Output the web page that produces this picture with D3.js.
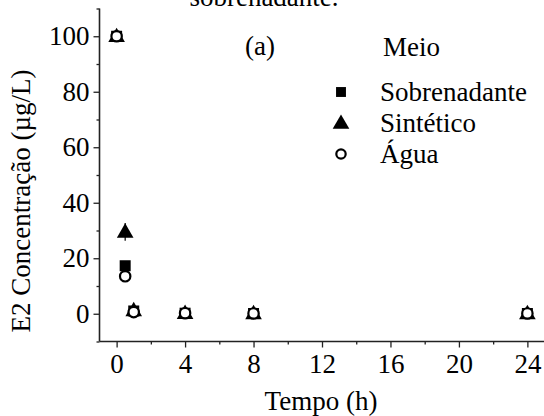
<!DOCTYPE html>
<html>
<head>
<meta charset="utf-8">
<script src="https://cdn.jsdelivr.net/npm/d3@7"></script>
<style>
  html, body { margin: 0; padding: 0; background: #fff; }
  svg { display: block; }
  svg text { font-family: "Liberation Serif", "Times New Roman", serif; }
</style>
</head>
<body>
<svg id="chart" width="544" height="416"></svg>
<script>
// Sampling times (h)
const tempo = [0, 0.5, 1, 4, 8, 24];

// E2 concentration (µg/L) per medium
const sobrenadante = [100, 17.3, 1.0, 0.2, 0.1, 0.1];
const sintetico    = [100, 29.5, 1.2, 0.2, 0.1, 0.1];
const agua         = [100, 13.5, 0.6, 0.2, 0.1, 0.1];

// Standard deviations
const sobrenadanteErr = [0.5, 1.0, 0.5, 0.2, 0.1, 0.1];
const sinteticoErr    = [0.5, 3.2, 0.8, 0.2, 0.1, 0.1];
const aguaErr         = [0.5, 0.8, 0.4, 0.2, 0.1, 0.1];

const xTicks = [0, 4, 8, 12, 16, 20, 24];
const yTicks = [0, 20, 40, 60, 80, 100];

const legendLabels = ["Sobrenadante", "Sintético", "Água"];

const svg = d3.select("#chart");

const x = d3.scaleLinear().domain([-1, 25]).range([99.5, 544.5]);
const y = d3.scaleLinear().domain([-10, 110]).range([341.5, 8.5]);

const axisColor = "#222";
const fontSize = 27;

// Partially visible caption line at the very top
svg.append("text")
  .attr("x", 264).attr("y", 6)
  .attr("text-anchor", "middle")
  .attr("font-size", fontSize)
  .text("sobrenadante.");

// Y axis with minor ticks
const yMinor = d3.range(-10, 111, 10).filter(v => v % 20 !== 0);
const gy = svg.append("g").attr("transform", `translate(${x(-1)},0)`);
gy.call(d3.axisLeft(y).tickValues(yTicks).tickSize(6).tickPadding(4).tickFormat(d3.format("d")));
gy.append("g").call(d3.axisLeft(y).tickValues(yMinor).tickSize(3).tickFormat(""))
  .select(".domain").remove();
gy.selectAll(".domain").attr("d", `M0,${y(-10)}V${y(110)}`);

// X axis with minor ticks
const xMinor = d3.range(-1, 26, 1).filter(v => v % 2 === 0 && v % 4 !== 0);
const gx = svg.append("g").attr("transform", `translate(0,${y(-10)})`);
gx.call(d3.axisBottom(x).tickValues(xTicks).tickSize(6).tickPadding(6).tickFormat(d3.format("d")));
gx.append("g").call(d3.axisBottom(x).tickValues(xMinor).tickSize(3).tickFormat(""))
  .select(".domain").remove();
gx.selectAll(".domain").attr("d", `M${x(-1)},0H${x(25)}`);

svg.selectAll(".tick line").attr("stroke", axisColor).attr("stroke-width", 1.3);
svg.selectAll(".domain").attr("stroke", axisColor).attr("stroke-width", 1.6);
svg.selectAll("g").attr("font-family", null);
svg.selectAll(".tick text")
  .attr("font-size", fontSize).attr("fill", "#000");

// Axis titles
svg.append("text")
  .attr("x", 321).attr("y", 410)
  .attr("text-anchor", "middle")
  .attr("font-size", fontSize)
  .text("Tempo (h)");

svg.append("text")
  .attr("transform", "translate(30,201) rotate(-90)")
  .attr("text-anchor", "middle")
  .attr("font-size", fontSize)
  .text("E2 Concentração (µg/L)");

// Panel label and legend title
svg.append("text").attr("x", 260).attr("y", 55)
  .attr("text-anchor", "middle").attr("font-size", fontSize).text("(a)");
svg.append("text").attr("x", 383).attr("y", 56)
  .attr("font-size", fontSize).text("Meio");

const symSquare = d3.symbol().type(d3.symbolSquare);
const symTriangle = d3.symbol().type(d3.symbolTriangle);

const series = [
  { vals: sobrenadante, err: sobrenadanteErr, kind: "square" },
  { vals: sintetico, err: sinteticoErr, kind: "triangle" },
  { vals: agua, err: aguaErr, kind: "circle" }
];

function drawMarker(g, kind, cx, cy, scale) {
  if (kind === "square") {
    g.append("path").attr("d", symSquare.size(121 * scale * scale)())
      .attr("transform", `translate(${cx},${cy})`).attr("fill", "#000");
  } else if (kind === "triangle") {
    g.append("path").attr("d", symTriangle.size(120 * scale * scale)())
      .attr("transform", `translate(${cx},${cy + 1})`).attr("fill", "#000");
  } else {
    g.append("circle").attr("cx", cx).attr("cy", cy).attr("r", 5.2 * scale)
      .attr("fill", "#fff").attr("stroke", "#000").attr("stroke-width", 2.2);
  }
}

const marks = svg.append("g");
series.forEach(s => {
  // error bars
  marks.selectAll(null).data(tempo).enter().append("line")
    .attr("x1", (d) => x(d)).attr("x2", (d) => x(d))
    .attr("y1", (d, i) => y(s.vals[i] - s.err[i]))
    .attr("y2", (d, i) => y(s.vals[i] + s.err[i]))
    .attr("stroke", "#000").attr("stroke-width", 1.2);
  tempo.forEach((t, i) => drawMarker(marks, s.kind, x(t), y(s.vals[i]), 1));
});

// Legend entries
const legendY = [92, 123, 154];
series.forEach((s, i) => {
  const lg = svg.append("g");
  drawMarker(lg, s.kind, 341, legendY[i], s.kind === "triangle" ? 1 : 0.9);
  lg.append("text").attr("x", 380).attr("y", legendY[i])
    .attr("dy", "0.35em").attr("font-size", fontSize)
    .text(legendLabels[i]);
});
</script>
</body>
</html>
